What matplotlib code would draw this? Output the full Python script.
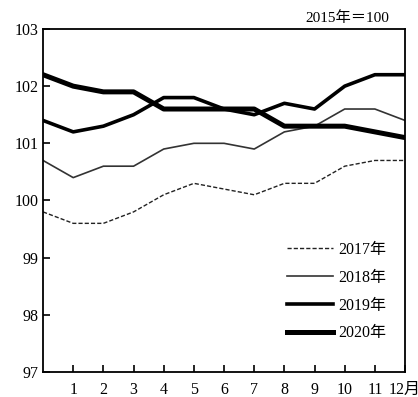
import matplotlib
matplotlib.use("Agg")
import matplotlib.pyplot as plt

plt.rcParams['font.family'] = ['Liberation Serif', 'Noto Sans CJK JP']

months = list(range(0, 13))
cpi_2017 = [99.8, 99.6, 99.6, 99.8, 100.1, 100.3, 100.2, 100.1, 100.3, 100.3, 100.6, 100.7, 100.7]
cpi_2018 = [100.7, 100.4, 100.6, 100.6, 100.9, 101.0, 101.0, 100.9, 101.2, 101.3, 101.6, 101.6, 101.4]
cpi_2019 = [101.4, 101.2, 101.3, 101.5, 101.8, 101.8, 101.6, 101.5, 101.7, 101.6, 102.0, 102.2, 102.2]
cpi_2020 = [102.2, 102.0, 101.9, 101.9, 101.6, 101.6, 101.6, 101.6, 101.3, 101.3, 101.3, 101.2, 101.1]
xtick_labels = [str(m) for m in range(1, 12)] + ["12月"]

fig = plt.figure(figsize=(4.18, 3.97), dpi=100)
ax = fig.add_axes([0.103, 0.063, 0.866, 0.864])

ax.plot(months, cpi_2017, color="#222222", lw=1.0, ls=(0, (3, 1.5)), label="2017年")
ax.plot(months, cpi_2018, color="#333333", lw=1.2, label="2018年")
ax.plot(months, cpi_2019, color="black", lw=2.6, label="2019年")
ax.plot(months, cpi_2020, color="black", lw=3.6, label="2020年")

ax.set_xlim(0, 12)
ax.set_ylim(97, 103)
ax.set_xticks(range(1, 13))
ax.set_xticklabels(xtick_labels)
ax.set_yticks(range(97, 104))
ax.tick_params(direction="in", length=5, width=1.2, labelsize=11.5, pad=3)
ax.tick_params(axis="x", pad=7)
for s in ax.spines.values():
    s.set_linewidth(1.3)

ax.text(0.955, 1.012, "2015年＝100", transform=ax.transAxes, ha="right", va="bottom", fontsize=11)

ax.legend(loc="lower right", bbox_to_anchor=(0.987, 0.047), frameon=False, fontsize=11.5,
          handlelength=2.9, labelspacing=0.75, handletextpad=0.3, borderpad=0.4)

fig.savefig("out.png", dpi=100)
